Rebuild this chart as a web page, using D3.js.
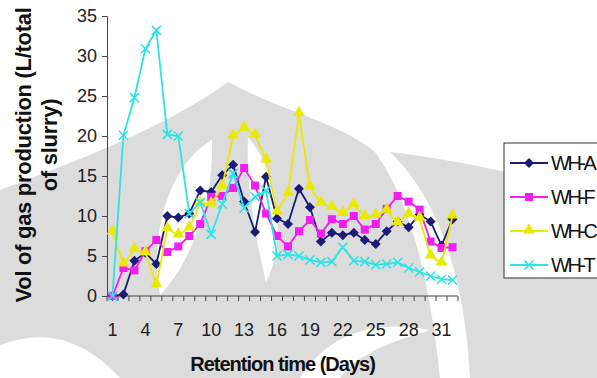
<!DOCTYPE html>
<html>
<head>
<meta charset="utf-8">
<script src="https://cdn.jsdelivr.net/npm/d3@7"></script>
<style>
  html, body { margin: 0; padding: 0; background: #fff; overflow: hidden; }
  svg { display: block; font-family: 'Liberation Sans', Arial, sans-serif; }
</style>
</head>
<body>
<div id="chart"></div>
<script>
// Retention day categories (x axis)
const days = [1, 2, 3, 4, 5, 6, 7, 8, 9, 10, 11, 12, 13, 14, 15, 16,
              17, 18, 19, 20, 21, 22, 23, 24, 25, 26, 27, 28, 29, 30, 31, 32];
const dayLabels = [1, 4, 7, 10, 13, 16, 19, 22, 25, 28, 31];
const yTicks = [0, 5, 10, 15, 20, 25, 30, 35];

// Gas volume per day (L/total of slurry)
const whA = [0, 0.2, 4.4, 5.4, 4.0, 10.0, 9.8, 10.3, 13.2, 13.0, 15.1, 16.4, 11.8, 8.0, 14.9, 9.7,
             9.0, 13.4, 11.1, 6.8, 7.9, 7.6, 7.9, 7.0, 6.5, 8.1, 9.3, 8.6, 10.2, 9.3, 6.3, 9.6];
const whF = [0, 3.5, 3.2, 5.6, 7.0, 5.5, 6.2, 7.5, 9.0, 12.4, 12.5, 13.5, 16.0, 13.8, 10.3, 7.5,
             6.2, 8.1, 9.5, 7.8, 9.6, 9.0, 10.0, 8.3, 9.0, 10.9, 12.5, 11.8, 10.8, 6.8, 6.0, 6.1];
const whC = [8.0, 4.0, 5.8, 5.4, 1.4, 8.4, 7.6, 8.5, 11.6, 11.5, 13.7, 20.0, 21.0, 20.1, 17.0, 10.5,
             12.8, 22.8, 13.6, 11.6, 11.1, 10.3, 11.4, 9.9, 10.1, 10.7, 9.1, 10.2, 9.7, 5.0, 4.1, 10.0];
const whT = [0, 20.1, 24.8, 30.9, 33.2, 20.2, 20.0, 10.3, 11.7, 7.7, 11.5, 15.3, 11.0, 12.4, 13.2, 5.0,
             5.2, 5.0, 4.5, 4.2, 4.3, 6.1, 4.4, 4.3, 3.9, 4.0, 4.2, 3.5, 3.0, 2.5, 2.1, 2.0];

const seriesNames = ['WH-A', 'WH-F', 'WH-C', 'WH-T'];
const seriesValues = [whA, whF, whC, whT];
const seriesColors = ['#1c1c78', '#f01ef0', '#eaea00', '#2ee3e3'];
const seriesMarks = ['diamond', 'square', 'triangle', 'x'];

const W = 597, H = 378;
const plot = { left: 107, right: 458, top: 16, bottom: 296 };

const svg = d3.select('#chart').append('svg')
  .attr('width', W)
  .attr('height', H)
  .attr('viewBox', `0 0 ${W} ${H}`);

// Faint background watermark (university logo), rough shapes only
const wm = svg.append('g').attr('fill', '#dcdcdc');
wm.append('path')   // central body
  .attr('d', 'M0,190 C80,160 170,125 228,82 C280,110 345,125 375,152 C410,200 430,280 440,378 L0,378 Z');
wm.append('path')   // right wing
  .attr('d', 'M390,152 C460,160 550,180 597,198 L597,378 L470,378 C465,280 440,200 390,152 Z');
const gaps = svg.append('g').attr('fill', '#ffffff');
gaps.append('path').attr('d', 'M212,140 C172,162 148,230 160,295 C192,262 214,200 212,140 Z');
gaps.append('path').attr('d', 'M248,137 C278,172 288,240 266,282 C254,232 246,182 248,137 Z');
gaps.append('path').attr('d', 'M0,345 C40,330 80,335 120,378 L0,378 Z');
gaps.append('path').attr('d', 'M300,378 C330,330 380,320 430,330 C400,340 360,350 340,378 Z');

// Scales
const x = d3.scaleBand().domain(days).range([plot.left, plot.right]);
const cx = d => x(d) + x.bandwidth() / 2;
const y = d3.scaleLinear().domain([0, 35]).range([plot.bottom, plot.top]);

// Y axis
const yAxis = svg.append('g')
  .attr('transform', `translate(${plot.left},0)`)
  .call(d3.axisLeft(y).tickValues(yTicks).tickSize(5).tickPadding(5));
yAxis.select('.domain').attr('stroke', '#444');
yAxis.selectAll('.tick line').attr('stroke', '#444');
yAxis.selectAll('.tick text')
  .attr('font-size', 18)
  .attr('font-family', "'Liberation Sans', Arial, sans-serif")
  .attr('fill', '#222');

// X axis: baseline, ticks between categories, labels every 3rd day
svg.append('line')
  .attr('x1', plot.left).attr('x2', plot.right)
  .attr('y1', plot.bottom).attr('y2', plot.bottom)
  .attr('stroke', '#444');
svg.append('g').selectAll('line')
  .data(days.concat([null]))
  .join('line')
  .attr('x1', d => d === null ? plot.right : x(d))
  .attr('x2', d => d === null ? plot.right : x(d))
  .attr('y1', plot.bottom)
  .attr('y2', plot.bottom + 5)
  .attr('stroke', '#444');
svg.append('g').selectAll('text')
  .data(dayLabels)
  .join('text')
  .attr('x', d => cx(d))
  .attr('y', 336)
  .attr('text-anchor', 'middle')
  .attr('font-size', 18)
  .attr('fill', '#222')
  .text(d => d);

// Axis titles
svg.append('text')
  .attr('x', (plot.left + plot.right) / 2)
  .attr('y', 371)
  .attr('text-anchor', 'middle')
  .attr('font-size', 20)
  .attr('font-weight', 'bold')
  .attr('letter-spacing', -1)
  .attr('fill', '#111')
  .text('Retention time (Days)');
const yTitle = svg.append('text')
  .attr('transform', 'rotate(-90)')
  .attr('text-anchor', 'middle')
  .attr('font-size', 22)
  .attr('font-weight', 'bold')
  .attr('letter-spacing', -0.3)
  .attr('fill', '#111');
yTitle.append('tspan').attr('x', -155).attr('y', 31).text('Vol of gas production (L/total');
yTitle.append('tspan').attr('x', -145).attr('y', 57).text('of slurry)');

// Marker drawing helper
function drawMark(g, type, color, px, py) {
  if (type === 'diamond') {
    g.append('path')
      .attr('d', d3.symbol(d3.symbolSquare, 50)())
      .attr('transform', `translate(${px},${py}) rotate(45)`)
      .attr('fill', color);
  } else if (type === 'square') {
    g.append('path')
      .attr('d', d3.symbol(d3.symbolSquare, 64)())
      .attr('transform', `translate(${px},${py})`)
      .attr('fill', color);
  } else if (type === 'triangle') {
    g.append('path')
      .attr('d', d3.symbol(d3.symbolTriangle, 60)())
      .attr('transform', `translate(${px},${py - 1})`)
      .attr('fill', color);
  } else {
    const s = 4.5;
    g.append('path')
      .attr('d', `M${px - s},${py - s}L${px + s},${py + s}M${px - s},${py + s}L${px + s},${py - s}`)
      .attr('stroke', color)
      .attr('stroke-width', 1.6)
      .attr('fill', 'none');
  }
}

// Series lines and markers
const line = d3.line().x((d, i) => cx(days[i])).y(d => y(d));
seriesValues.forEach((vals, k) => {
  const g = svg.append('g');
  g.append('path')
    .attr('d', line(vals))
    .attr('fill', 'none')
    .attr('stroke', seriesColors[k])
    .attr('stroke-width', 1.8);
  vals.forEach((v, i) => drawMark(g, seriesMarks[k], seriesColors[k], cx(days[i]), y(v)));
});

// Legend (clipped at right edge like the original)
const legend = svg.append('g').attr('transform', 'translate(504,143)');
legend.append('rect')
  .attr('width', 140)
  .attr('height', 135)
  .attr('fill', '#fff')
  .attr('stroke', '#333');
seriesNames.forEach((name, k) => {
  const ly = 20 + k * 34;
  legend.append('line')
    .attr('x1', 6).attr('x2', 44)
    .attr('y1', ly).attr('y2', ly)
    .attr('stroke', seriesColors[k])
    .attr('stroke-width', 2);
  drawMark(legend, seriesMarks[k], seriesColors[k], 25, ly);
  legend.append('text')
    .attr('x', 47)
    .attr('y', ly + 7)
    .attr('font-size', 20)
    .attr('letter-spacing', -2.5)
    .attr('fill', '#111')
    .text(name);
});
</script>
</body>
</html>
